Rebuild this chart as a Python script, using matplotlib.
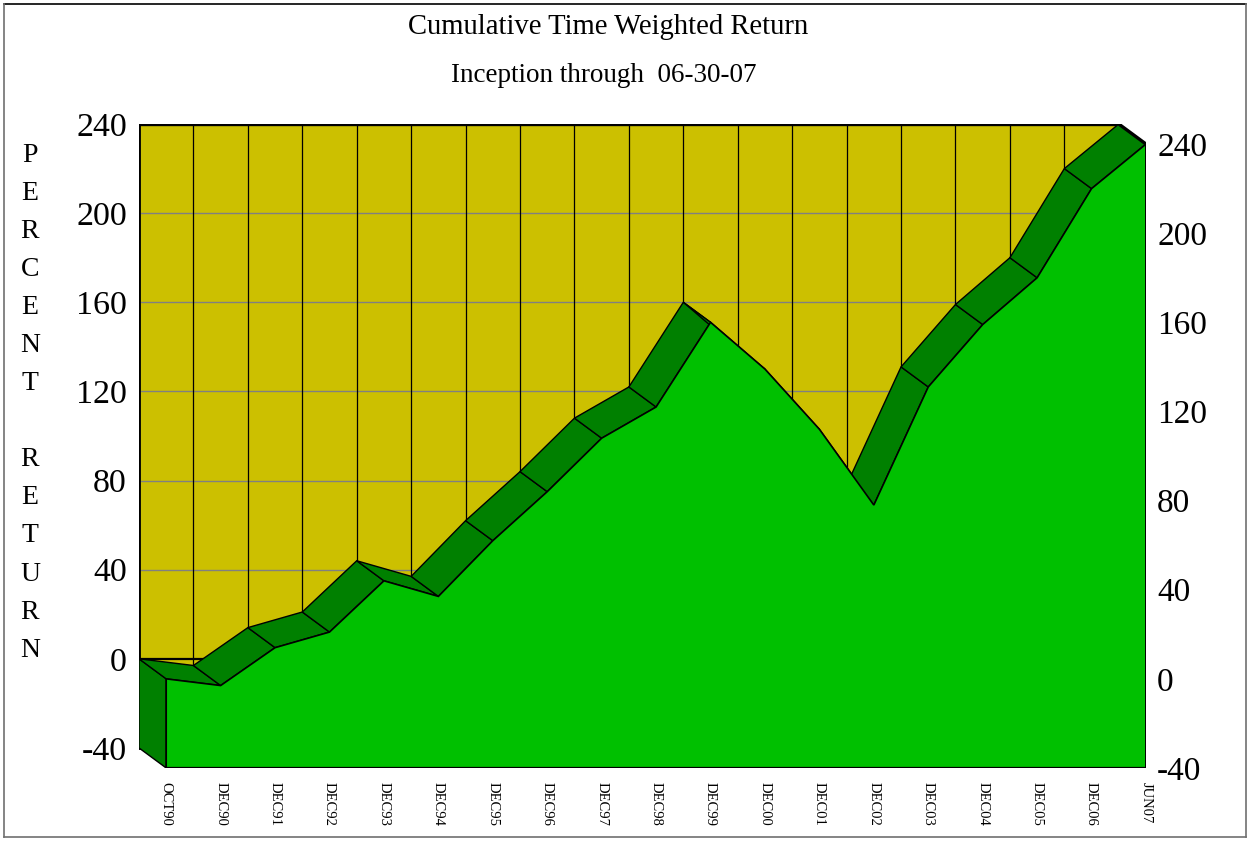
import matplotlib
matplotlib.use('Agg')
import matplotlib.pyplot as plt
from matplotlib.patches import Polygon, Rectangle
from matplotlib.lines import Line2D

# ---------------- data ----------------
categories = ['OCT90', 'DEC90', 'DEC91', 'DEC92', 'DEC93', 'DEC94', 'DEC95',
              'DEC96', 'DEC97', 'DEC98', 'DEC99', 'DEC00', 'DEC01', 'DEC02',
              'DEC03', 'DEC04', 'DEC05', 'DEC06', 'JUN07']
returns = [0, -3, 14, 21, 44, 37, 62, 84, 108, 122, 160, 139, 112, 78,
           131, 159, 180, 220, 240]
y_ticks = [-40, 0, 40, 80, 120, 160, 200, 240]
y_title_letters = list("PERCENT") + [""] + list("RETURN")
title = "Cumulative Time Weighted Return"
subtitle = "Inception through  06-30-07"

# ---------------- style ----------------
WALL = '#CCC000'
FRONT = '#00C000'
TOP = '#008000'
GRID = '#808080'
DX, DY = 0.5, 9.0          # 3-D depth offset (category units, value units)

plt.rcParams['font.family'] = ['Liberation Serif', 'DejaVu Serif']

W, H = 1251, 842
fig = plt.figure(figsize=(W / 100, H / 100), dpi=100)
ax = fig.add_axes([139 / W, 74 / H, 1007 / W, 644 / H])
n = len(categories)
ymin, ymax = y_ticks[0], y_ticks[-1]
ax.set_xlim(-DX, n - 1)
ax.set_ylim(ymin, ymax + DY)
for s in ax.spines.values():
    s.set_visible(False)
ax.patch.set_visible(False)

# back wall
ax.add_patch(Rectangle((-DX, ymin + DY), n - 1, ymax - ymin, facecolor=WALL,
                       edgecolor='black', lw=1, zorder=1))
for v in y_ticks[1:-1]:
    ax.plot([-DX, n - 1 - DX], [v + DY] * 2,
            color='black' if v == 0 else GRID,
            lw=1.6 if v == 0 else 1.0, zorder=2)
for i in range(n):
    ax.plot([i - DX] * 2, [ymin + DY, ymax + DY], color='black', lw=0.9, zorder=2)
ax.plot([-DX, n - 1 - DX], [ymax + DY] * 2, color='black', lw=2.4, zorder=2,
        solid_capstyle='projecting')
ax.plot([-DX, -DX], [ymin + DY, ymax + DY], color='black', lw=2.0, zorder=2)

# left side face
ax.add_patch(Polygon([(-DX, ymin + DY), (-DX, returns[0] + DY), (0, returns[0]),
                      (0, ymin)], closed=True, facecolor=TOP, edgecolor='black',
                     lw=1, zorder=3))

# top ribbons
for i in range(n - 1):
    ax.add_patch(Polygon([(i - DX, returns[i] + DY),
                          (i + 1 - DX, returns[i + 1] + DY),
                          (i + 1, returns[i + 1]),
                          (i, returns[i])], closed=True, facecolor=TOP,
                         edgecolor='black', lw=1, zorder=3))

# front face
front = [(0, ymin)] + [(i, r) for i, r in enumerate(returns)] + [(n - 1, ymin)]
ax.add_patch(Polygon(front, closed=True, facecolor=FRONT, edgecolor='black',
                     lw=1.2, zorder=4))
ax.plot([n - 1 - DX, n - 1], [returns[-1] + DY, returns[-1]], color='black',
        lw=2.4, zorder=5)
ax.plot([n - 1, n - 1], [ymin, returns[-1]], color='black', lw=2.0, zorder=5)
ax.plot([0, n - 1], [ymin, ymin], color='black', lw=1.6, zorder=5)

# right axis labels (front plane)
ax.yaxis.tick_right()
ax.set_yticks(y_ticks)
ax.set_yticklabels([str(v) for v in y_ticks])
ax.tick_params(axis='y', length=0, pad=8, labelsize=24)

# left axis labels (back plane)
for v in y_ticks:
    ax.annotate(str(v), xy=(-DX, v + DY), xytext=(-12, 0),
                textcoords='offset pixels', ha='right', va='center_baseline',
                fontsize=24.5, annotation_clip=False)

# category labels
ax.set_xticks(range(n))
ax.set_xticklabels(categories, rotation=270, fontsize=10.5)
ax.tick_params(axis='x', length=0, pad=10)

# vertical axis title
for k, ch in enumerate(y_title_letters):
    if ch:
        fig.text(30 / W, 1 - (152 + 38.1 * k) / H, ch, ha='center',
                 va='center_baseline', fontsize=20)

# titles
fig.text(608 / W, 1 - 34 / H, title, ha='center', va='baseline', fontsize=20.6)
fig.text(604 / W, 1 - 82 / H, subtitle, ha='center', va='baseline', fontsize=19.5)

# figure border
L, R, T, B = 4 / W, 1246 / W, 1 - 4 / H, 1 - 837 / H
fig.add_artist(Line2D([L, R], [T, T], color='black', lw=1.2, transform=fig.transFigure))
fig.add_artist(Line2D([L, L], [B, T], color='#707070', lw=1.2, transform=fig.transFigure))
fig.add_artist(Line2D([L, R], [B, B], color='#707070', lw=1.2, transform=fig.transFigure))
fig.add_artist(Line2D([R, R], [B, T], color='#707070', lw=1.2, transform=fig.transFigure))

fig.savefig('out.png', dpi=100, facecolor='white')
